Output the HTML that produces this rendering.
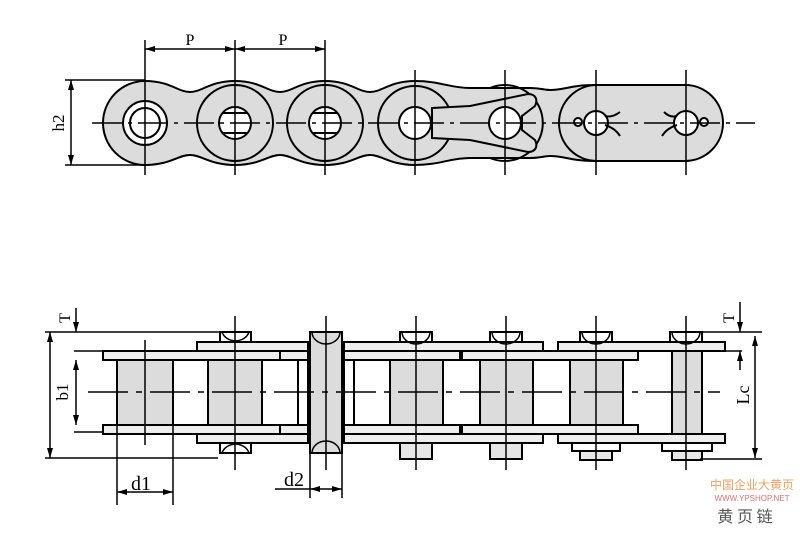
<!DOCTYPE html>
<html><head><meta charset="utf-8"><style>
html,body{margin:0;padding:0;background:#fff;width:800px;height:533px;overflow:hidden}
svg{display:block}
text{font-family:"Liberation Serif",serif;fill:#000}
</style></head><body>
<svg width="800" height="533" viewBox="0 0 800 533" xmlns="http://www.w3.org/2000/svg">
<defs>
<marker id="a" viewBox="0 0 10 6" refX="10" refY="3" markerWidth="10" markerHeight="6" orient="auto-start-reverse" markerUnits="userSpaceOnUse"><path d="M0,0 L10,3 L0,6 z" fill="#000"/></marker>
</defs>
<g stroke="#000" stroke-width="2" fill="none">
<path fill="#dcdcdc" d="M145,81 C170,81 178,92 190,92 C202,92 210,81 235,81 C260,81 268,92 280,92 C292,92 300,81 325,81 C350,81 358,92 370,92 C382,92 390,81 415,81 C440,81 450,88 470,88 L530,88 C540,88 545,90 550,90 C565,90 570,85 595,85 L685,85 A38,38 0 0 1 685,161 L595,161 C570,161 565,156 550,156 C545,156 540,158 530,158 L470,158 C450,158 440,165 415,165 C390,165 382,155 370,155 C358,155 350,165 325,165 C300,165 292,155 280,155 C268,155 260,165 235,165 C210,165 202,155 190,155 C178,155 170,165 145,165 A42,42 0 0 1 145,81 Z"/>
<circle cx="235" cy="123" r="38"/>
<circle cx="325" cy="123" r="38"/>
<circle cx="415" cy="123" r="37"/>
<path d="M490,88 A38,38 0 1 1 490,158"/>
<path d="M597,85 A38,38 0 0 0 597,161"/>
<path fill="#dcdcdc" d="M432,108 L470,106 L528,94 C536,94 538,100 535,106 L522,116 L522,130 L535,140 C538,146 536,152 528,152 L470,140 L432,138 Z"/>
<circle cx="145" cy="123" r="22" fill="#fff"/>
<circle cx="145" cy="123" r="15" fill="#fff"/>
<circle cx="235" cy="123" r="16" fill="#fff"/>
<line x1="222" y1="113" x2="248" y2="113"/><line x1="222" y1="133" x2="248" y2="133"/>
<circle cx="325" cy="123" r="16" fill="#fff"/>
<line x1="312" y1="113" x2="338" y2="113"/><line x1="312" y1="133" x2="338" y2="133"/>
<circle cx="415" cy="123" r="16" fill="#fff"/>
<circle cx="505" cy="123" r="16" fill="#fff"/>
<circle cx="596" cy="123" r="12" fill="#fff"/>
<circle cx="578" cy="122" r="4" fill="#fff"/>
<path d="M605,116 Q612,118 620,112 M605,125 Q615,128 620,136"/>
<circle cx="686" cy="123" r="12" fill="#fff"/>
<circle cx="704" cy="122" r="4" fill="#fff"/>
<path d="M677,116 Q670,118 664,112 M677,125 Q667,128 662,136"/>
</g>
<g stroke="#000" stroke-width="1.5">
<line x1="92" y1="123" x2="755" y2="123" stroke-dasharray="30,6,4,6"/>
<line x1="145" y1="40" x2="145" y2="175"/><line x1="235" y1="40" x2="235" y2="175"/><line x1="325" y1="40" x2="325" y2="175"/>
<line x1="415" y1="70" x2="415" y2="175"/><line x1="505" y1="70" x2="505" y2="175"/><line x1="596" y1="70" x2="596" y2="175"/><line x1="686" y1="70" x2="686" y2="175"/>
<line x1="145" y1="49" x2="235" y2="49" marker-start="url(#a)" marker-end="url(#a)"/>
<line x1="235" y1="49" x2="325" y2="49" marker-start="url(#a)" marker-end="url(#a)"/>
<line x1="65" y1="80" x2="145" y2="80"/><line x1="65" y1="165" x2="145" y2="165"/>
<line x1="71" y1="80" x2="71" y2="165" marker-start="url(#a)" marker-end="url(#a)"/>
</g>
<text x="190" y="45" font-size="16" text-anchor="middle">P</text>
<text x="283" y="45" font-size="16" text-anchor="middle">P</text>
<text transform="translate(64,123) rotate(-90)" font-size="17" text-anchor="middle">h2</text>

<g stroke="#000" stroke-width="2" fill="#fff">
<g fill="#dcdcdc">
<rect x="117" y="360" width="56" height="65"/>
<rect x="208" y="360" width="54" height="65"/>
<rect x="390" y="360" width="53" height="65"/>
<rect x="480" y="360" width="53" height="65"/>
<rect x="570" y="360" width="53" height="65"/>
<rect x="672" y="351" width="30" height="84"/>
</g>
<rect x="298" y="360" width="10" height="65"/><rect x="344" y="360" width="10" height="65"/>
<rect x="103" y="351" width="177" height="9" fill="#eee"/>
<rect x="280" y="351" width="28" height="9" fill="#eee"/>
<rect x="344" y="351" width="116" height="9" fill="#eee"/>
<rect x="462" y="351" width="176" height="9" fill="#eee"/>
<rect x="103" y="425" width="177" height="9" fill="#eee"/>
<rect x="280" y="425" width="28" height="9" fill="#eee"/>
<rect x="344" y="425" width="116" height="9" fill="#eee"/>
<rect x="462" y="425" width="176" height="9" fill="#eee"/>
<rect x="197" y="342" width="111" height="9" fill="#eee"/>
<rect x="344" y="342" width="199" height="9" fill="#eee"/>
<rect x="558" y="342" width="167" height="9" fill="#eee"/>
<rect x="197" y="434" width="111" height="9" fill="#eee"/>
<rect x="344" y="434" width="199" height="9" fill="#eee"/>
<rect x="558" y="434" width="167" height="9" fill="#eee"/>
<rect x="220" y="332" width="31" height="10"/><rect x="400" y="332" width="32" height="10"/><rect x="490" y="332" width="32" height="10"/><rect x="580" y="332" width="32" height="10"/><rect x="670" y="332" width="32" height="10"/>
<rect x="220" y="443" width="31" height="10"/>
<rect x="400" y="443" width="32" height="16" fill="#e6e6e6"/><rect x="490" y="443" width="32" height="16" fill="#e6e6e6"/>
<rect x="572" y="443" width="48" height="8"/><rect x="580" y="451" width="32" height="9" fill="#e6e6e6"/>
<rect x="662" y="443" width="50" height="8"/><rect x="672" y="451" width="30" height="9" fill="#e6e6e6"/>
<rect x="310" y="332" width="32" height="121" fill="#dcdcdc"/>
</g>
<g stroke="#000" stroke-width="1.5" fill="none">
<path d="M222,332 A14,12 0 0 0 249,332 M402,332 A14,12 0 0 0 430,332 M492,332 A14,12 0 0 0 520,332 M582,332 A14,12 0 0 0 610,332 M672,332 A14,12 0 0 0 700,332"/>
<path d="M222,453 A14,12 0 0 1 249,453"/>
<path d="M312,332 A14,12 0 0 0 340,332 M312,453 A14,12 0 0 1 340,453"/>
<line x1="88" y1="392" x2="720" y2="392" stroke-dasharray="40,8,6,8"/>
<line x1="145" y1="340" x2="145" y2="445"/><line x1="235" y1="316" x2="235" y2="470"/><line x1="326" y1="316" x2="326" y2="470"/>
<line x1="416" y1="316" x2="416" y2="470"/><line x1="506" y1="316" x2="506" y2="470"/><line x1="596" y1="316" x2="596" y2="470"/><line x1="686" y1="316" x2="686" y2="470"/>
<line x1="45" y1="332" x2="220" y2="332"/><line x1="45" y1="458" x2="218" y2="458"/>
<line x1="50" y1="332" x2="50" y2="458" marker-start="url(#a)" marker-end="url(#a)"/>
<line x1="74" y1="351" x2="103" y2="351"/><line x1="74" y1="432" x2="103" y2="432"/>
<line x1="76" y1="360" x2="76" y2="425" marker-start="url(#a)" marker-end="url(#a)"/>
<line x1="76" y1="308" x2="76" y2="332" marker-end="url(#a)"/>
<line x1="117" y1="425" x2="117" y2="505"/><line x1="173" y1="425" x2="173" y2="505"/>
<line x1="117" y1="492" x2="173" y2="492" marker-start="url(#a)" marker-end="url(#a)"/>
<line x1="310" y1="453" x2="310" y2="498"/><line x1="342" y1="453" x2="342" y2="498"/>
<line x1="275" y1="489" x2="310" y2="489"/>
<line x1="310" y1="489" x2="342" y2="489" marker-start="url(#a)" marker-end="url(#a)"/>
<line x1="672" y1="332" x2="762" y2="332"/><line x1="725" y1="351" x2="742" y2="351"/>
<line x1="700" y1="459" x2="762" y2="459"/>
<line x1="740" y1="302" x2="740" y2="332" marker-end="url(#a)"/>
<line x1="740" y1="370" x2="740" y2="351" marker-end="url(#a)"/>
<line x1="755" y1="336" x2="755" y2="458" marker-start="url(#a)" marker-end="url(#a)"/>
</g>
<text transform="translate(70,318) rotate(-90)" font-size="16" text-anchor="middle">T</text>
<text transform="translate(68,392) rotate(-90)" font-size="17" text-anchor="middle">b1</text>
<text x="141" y="490" font-size="20" text-anchor="middle">d1</text>
<text x="294" y="486" font-size="20" text-anchor="middle">d2</text>
<text transform="translate(734,318) rotate(-90)" font-size="16" text-anchor="middle">T</text>
<text transform="translate(749,395) rotate(-90)" font-size="18" text-anchor="middle">Lc</text>
<text x="752" y="489" font-size="12" text-anchor="middle" style="font-family:'Noto Sans CJK SC',sans-serif;fill:#f0a060">中国企业大黄页</text>
<text x="752" y="501" font-size="8" text-anchor="middle" style="font-family:'Liberation Sans',sans-serif;fill:#e07070">WWW.YPSHOP.NET</text>
<text x="745" y="522" font-size="16" text-anchor="middle" style="font-family:'Noto Sans CJK SC',sans-serif;fill:#555">黄 页 链</text>
</svg>
</body></html>
